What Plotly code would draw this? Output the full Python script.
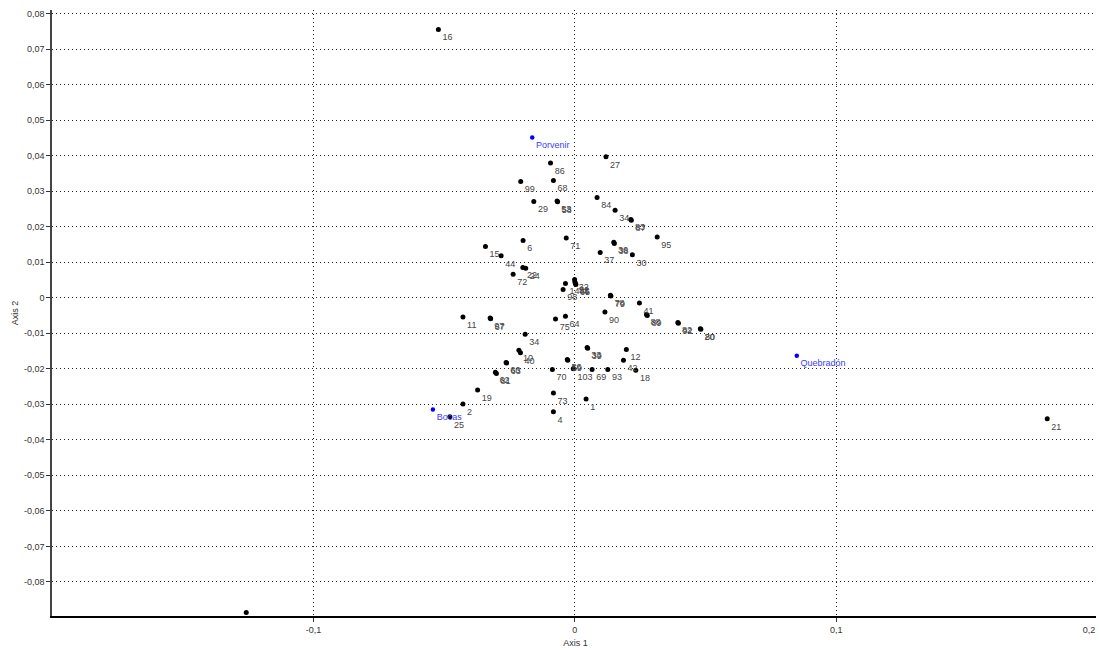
import plotly.graph_objects as go

# ---- data: object scores (black) ----
labels = ["16", "27", "86", "99", "68", "29", "53", "58", "84", "34",
          "83", "87", "95", "6", "71", "15", "44", "36", "38", "37",
          "30", "22", "24", "72", "14", "98", "32", "52", "85", "65",
          "78", "79", "90", "41", "88", "89", "82", "92", "20", "80",
          "11", "97", "67", "75", "64", "34", "10", "40", "66", "63",
          "62", "81", "19", "2", "25", "73", "4", "1", "70", "56",
          "59", "103", "69", "93", "33", "39", "12", "42", "18", "21", "5"]
axis1 = [-0.0522, 0.0119, -0.0093, -0.0207, -0.0082, -0.0157, -0.0068, -0.0066, 0.0085, 0.0154,
         0.0214, 0.0216, 0.0315, -0.0198, -0.0033, -0.0342, -0.0282, 0.0149, 0.0151, 0.0097,
         0.0220, -0.0199, -0.0188, -0.0236, -0.0036, -0.0045, -0.0001, 0.0000, 0.0002, 0.0004,
         0.0136, 0.0138, 0.0115, 0.0247, 0.0274, 0.0277, 0.0394, 0.0396, 0.0480, 0.0482,
         -0.0428, -0.0324, -0.0322, -0.0074, -0.0036, -0.0190, -0.0214, -0.0208, -0.0263, -0.0261,
         -0.0304, -0.0300, -0.0372, -0.0428, -0.0478, -0.0082, -0.0082, 0.0043, -0.0086, -0.0029,
         -0.0027, -0.0006, 0.0066, 0.0126, 0.0047, 0.0049, 0.0197, 0.0186, 0.0233, 0.1807, -0.1257]
axis2 = [0.0755, 0.0397, 0.0379, 0.0327, 0.0330, 0.0271, 0.0272, 0.0270, 0.0282, 0.0246,
         0.0220, 0.0218, 0.0171, 0.0161, 0.0168, 0.0144, 0.0118, 0.0156, 0.0153, 0.0127,
         0.0121, 0.0085, 0.0083, 0.0066, 0.0040, 0.0023, 0.0051, 0.0045, 0.0040, 0.0037,
         0.0007, 0.0005, -0.0040, -0.0015, -0.0047, -0.0050, -0.0070, -0.0072, -0.0087, -0.0089,
         -0.0054, -0.0057, -0.0059, -0.0060, -0.0052, -0.0103, -0.0148, -0.0155, -0.0182, -0.0184,
         -0.0210, -0.0213, -0.0260, -0.0299, -0.0335, -0.0268, -0.0321, -0.0285, -0.0202, -0.0174,
         -0.0176, -0.0200, -0.0202, -0.0202, -0.0140, -0.0142, -0.0146, -0.0176, -0.0204, -0.0341, -0.0886]

# ---- data: sites (blue) ----
site_labels = ["Porvenir", "Bocas", "Quebradón"]
site_axis1 = [-0.0163, -0.0543, 0.0849]
site_axis2 = [0.0451, -0.0315, -0.0163]

# ---- ticks ----
x_ticks = [-0.1, 0.0, 0.1, 0.2]
x_tick_labels = ["-0,1", "0", "0,1", "0,2" + "\u00a0" * 7]
y_ticks = [-0.08, -0.07, -0.06, -0.05, -0.04, -0.03, -0.02, -0.01, 0.0,
           0.01, 0.02, 0.03, 0.04, 0.05, 0.06, 0.07, 0.08]
y_tick_labels = ["-0,08", "-0,07", "-0,06", "-0,05", "-0,04", "-0,03", "-0,02", "-0,01", "0",
                 "0,01", "0,02", "0,03", "0,04", "0,05", "0,06", "0,07", "0,08"]

FONT = "Liberation Sans, Arial, sans-serif"

fig = go.Figure()
fig.add_trace(go.Scatter(
    x=axis1, y=axis2, mode="markers+text", text=labels,
    textposition="bottom right",
    textfont=dict(family=FONT, size=9, color="#444444"),
    marker=dict(color="black", size=5),
    cliponaxis=True, hoverinfo="text", showlegend=False,
))
fig.add_trace(go.Scatter(
    x=site_axis1, y=site_axis2, mode="markers+text", text=site_labels,
    textposition="bottom right",
    textfont=dict(family=FONT, size=9, color="#3b3bff"),
    marker=dict(color="#0000ff", size=4.5),
    cliponaxis=True, hoverinfo="text", showlegend=False,
))

axis_common = dict(
    showline=True, linewidth=1.5, automargin=False,
    ticks="outside", ticklen=4, tickcolor="#333333", tickwidth=1,
    showgrid=True, gridcolor="#222222", gridwidth=1, griddash="1px,3px",
    zeroline=False, mirror=False,
    tickfont=dict(family=FONT, size=9, color="#333333"),
)

# the page body has an 8px margin, so the figure is sized 8px smaller
fig.update_layout(
    width=1096, height=644,
    margin=dict(l=44, r=5, t=2, b=36),
    paper_bgcolor="white", plot_bgcolor="white",
    xaxis=dict(range=[-0.2, 0.2005], tickvals=x_ticks, ticktext=x_tick_labels,
               linecolor="black", ticklabeloverflow="allow",
               title=dict(text="Axis 1", font=dict(family=FONT, size=9, color="#333333"), standoff=6),
               **axis_common),
    yaxis=dict(range=[-0.0896, 0.0810], tickvals=y_ticks, ticktext=y_tick_labels,
               linecolor="#444444",
               title=dict(text="Axis 2", font=dict(family=FONT, size=9, color="#333333"), standoff=4),
               **axis_common),
)

fig.write_html("out.html")
